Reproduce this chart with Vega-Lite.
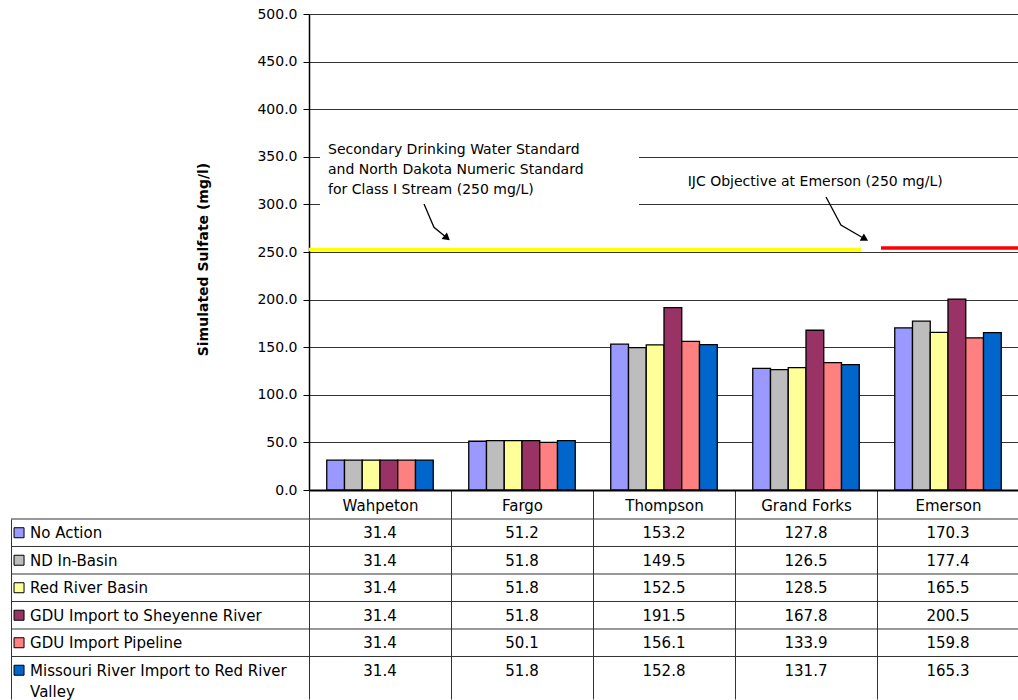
{
  "$schema": "https://vega.github.io/schema/vega-lite/v6.json",
  "padding": {"top": 7, "left": 10, "right": 0, "bottom": 0},
  "background": "white",
  "columns": 2,
  "bounds": "flush",
  "align": "each",
  "spacing": {"row": 29, "column": 0},
  "config": {
    "view": {"stroke": null},
    "font": "DejaVu Sans",
    "axis": {"labelFont": "DejaVu Sans", "titleFont": "DejaVu Sans"},
    "text": {"font": "DejaVu Sans"}
  },
  "datasets": {
    "sulfate": [
      {"location": "Wahpeton", "scenario": "No Action", "value": 31.4},
      {"location": "Fargo", "scenario": "No Action", "value": 51.2},
      {"location": "Thompson", "scenario": "No Action", "value": 153.2},
      {"location": "Grand Forks", "scenario": "No Action", "value": 127.8},
      {"location": "Emerson", "scenario": "No Action", "value": 170.3},
      {"location": "Wahpeton", "scenario": "ND In-Basin", "value": 31.4},
      {"location": "Fargo", "scenario": "ND In-Basin", "value": 51.8},
      {"location": "Thompson", "scenario": "ND In-Basin", "value": 149.5},
      {"location": "Grand Forks", "scenario": "ND In-Basin", "value": 126.5},
      {"location": "Emerson", "scenario": "ND In-Basin", "value": 177.4},
      {"location": "Wahpeton", "scenario": "Red River Basin", "value": 31.4},
      {"location": "Fargo", "scenario": "Red River Basin", "value": 51.8},
      {"location": "Thompson", "scenario": "Red River Basin", "value": 152.5},
      {"location": "Grand Forks", "scenario": "Red River Basin", "value": 128.5},
      {"location": "Emerson", "scenario": "Red River Basin", "value": 165.5},
      {"location": "Wahpeton", "scenario": "GDU Import to Sheyenne River", "value": 31.4},
      {"location": "Fargo", "scenario": "GDU Import to Sheyenne River", "value": 51.8},
      {"location": "Thompson", "scenario": "GDU Import to Sheyenne River", "value": 191.5},
      {"location": "Grand Forks", "scenario": "GDU Import to Sheyenne River", "value": 167.8},
      {"location": "Emerson", "scenario": "GDU Import to Sheyenne River", "value": 200.5},
      {"location": "Wahpeton", "scenario": "GDU Import Pipeline", "value": 31.4},
      {"location": "Fargo", "scenario": "GDU Import Pipeline", "value": 50.1},
      {"location": "Thompson", "scenario": "GDU Import Pipeline", "value": 156.1},
      {"location": "Grand Forks", "scenario": "GDU Import Pipeline", "value": 133.9},
      {"location": "Emerson", "scenario": "GDU Import Pipeline", "value": 159.8},
      {"location": "Wahpeton", "scenario": "Missouri  River Import to Red River\nValley", "value": 31.4},
      {"location": "Fargo", "scenario": "Missouri  River Import to Red River\nValley", "value": 51.8},
      {"location": "Thompson", "scenario": "Missouri  River Import to Red River\nValley", "value": 152.8},
      {"location": "Grand Forks", "scenario": "Missouri  River Import to Red River\nValley", "value": 131.7},
      {"location": "Emerson", "scenario": "Missouri  River Import to Red River\nValley", "value": 165.3}
    ],
    "notes": [
      {"note": "Secondary Drinking  Water Standard\nand North Dakota Numeric Standard\nfor Class I Stream (250 mg/L)", "pos": 0.134, "level": 364},
      {"note": "IJC Objective at Emerson (250 mg/L)", "pos": 2.667, "level": 331}
    ],
    "standards": [
      {"standard": "Secondary / ND Class I Stream", "level": 250, "from": 0, "to": 3.887},
      {"standard": "IJC Objective at Emerson", "level": 250, "from": 4.028, "to": 5}
    ],
    "arrows": [
      {"arrow": "secondary", "step": 1, "pos": 0.81, "level": 300.4},
      {"arrow": "secondary", "step": 2, "pos": 0.88, "level": 276},
      {"arrow": "secondary", "step": 3, "pos": 0.972, "level": 264.7},
      {"arrow": "ijc", "step": 1, "pos": 3.641, "level": 307.8},
      {"arrow": "ijc", "step": 2, "pos": 3.746, "level": 278.4},
      {"arrow": "ijc", "step": 3, "pos": 3.915, "level": 263.7}
    ]
  },
  "concat": [
    {
      "width": 298,
      "height": 476,
      "data": {"values": []},
      "mark": {"type": "point", "opacity": 0},
      "encoding": {}
    },
    {
      "width": 710,
      "height": 476,
      "resolve": {"scale": {"x": "independent"}},
      "layer": [
        {
          "data": {"name": "sulfate"},
          "mark": {"type": "bar", "stroke": "#000", "strokeWidth": 1.3},
          "encoding": {
            "x": {
              "field": "location", "type": "nominal",
              "scale": {"domain": ["Wahpeton", "Fargo", "Thompson", "Grand Forks", "Emerson"], "paddingInner": 0, "paddingOuter": 0},
              "axis": {"title": null, "labelAngle": 0, "labelFontSize": 15, "labelColor": "#000", "labelPadding": -21, "tickBand": "extent", "tickSize": 29, "tickColor": "#333", "tickWidth": 1, "domainColor": "#000", "domainWidth": 2, "grid": false}
            },
            "xOffset": {
              "field": "scenario", "type": "nominal",
              "scale": {"domain": ["No Action", "ND In-Basin", "Red River Basin", "GDU Import to Sheyenne River", "GDU Import Pipeline", "Missouri  River Import to Red River\nValley"], "paddingInner": 0, "paddingOuter": 1.18}
            },
            "y": {
              "field": "value", "type": "quantitative",
              "scale": {"domain": [0, 500], "nice": false},
              "axis": {"values": [0, 50, 100, 150, 200, 250, 300, 350, 400, 450, 500], "format": ".1f", "title": "Simulated Sulfate (mg/l)", "titleFontWeight": "bold", "titleFontSize": 14, "titleColor": "#000", "titlePadding": 46, "titleY": 245, "labelFontSize": 14, "labelColor": "#000", "labelPadding": 6, "tickSize": 6, "tickColor": "#000", "domainColor": "#000", "domainWidth": 1.5, "grid": true, "gridColor": "#333", "gridWidth": 1}
            },
            "color": {
              "field": "scenario", "type": "nominal",
              "scale": {"domain": ["No Action", "ND In-Basin", "Red River Basin", "GDU Import to Sheyenne River", "GDU Import Pipeline", "Missouri  River Import to Red River\nValley"], "range": ["#9999FF", "#BDBDBD", "#FFFF99", "#993366", "#FF8080", "#0066CC"]},
              "legend": null
            }
          }
        },
        {
          "layer": [
            {
              "data": {"name": "notes"},
              "transform": [{"filter": "indexof(datum.note, 'Secondary') === 0"}],
              "mark": {"type": "rect", "fill": "white"},
              "encoding": {
                "x": {"datum": 0.077, "type": "quantitative", "scale": {"domain": [0, 5], "nice": false, "zero": false}, "axis": null},
                "x2": {"datum": 2.324},
                "y": {"datum": 275, "type": "quantitative"},
                "y2": {"datum": 395}
              }
            },
            {
              "data": {"name": "standards"},
              "transform": [{"filter": "datum.standard === 'Secondary / ND Class I Stream'"}],
              "mark": {"type": "rule", "color": "#FFFF00", "strokeWidth": 3.6, "yOffset": -2.5},
              "encoding": {
                "x": {"field": "from", "type": "quantitative", "scale": {"domain": [0, 5], "nice": false, "zero": false}, "axis": null},
                "x2": {"field": "to"},
                "y": {"field": "level", "type": "quantitative"}
              }
            },
            {
              "data": {"name": "standards"},
              "transform": [{"filter": "datum.standard === 'IJC Objective at Emerson'"}],
              "mark": {"type": "rule", "color": "#FF0000", "strokeWidth": 3.6, "yOffset": -4},
              "encoding": {
                "x": {"field": "from", "type": "quantitative", "scale": {"domain": [0, 5], "nice": false, "zero": false}, "axis": null},
                "x2": {"field": "to"},
                "y": {"field": "level", "type": "quantitative"}
              }
            },
            {
              "data": {"name": "arrows"},
              "mark": {"type": "line", "color": "#000", "strokeWidth": 1.3},
              "encoding": {
                "x": {"field": "pos", "type": "quantitative", "scale": {"domain": [0, 5], "nice": false, "zero": false}, "axis": null},
                "y": {"field": "level", "type": "quantitative"},
                "detail": {"field": "arrow", "type": "nominal"},
                "order": {"field": "step", "type": "quantitative"}
              }
            },
            {
              "data": {"name": "arrows"},
              "transform": [{"filter": "datum.arrow === 'secondary' && datum.step === 3"}],
              "mark": {"type": "point", "shape": "triangle-up", "size": 70, "filled": true, "color": "#000", "opacity": 1, "angle": 130},
              "encoding": {
                "x": {"field": "pos", "type": "quantitative", "scale": {"domain": [0, 5], "nice": false, "zero": false}, "axis": null},
                "y": {"field": "level", "type": "quantitative"}
              }
            },
            {
              "data": {"name": "arrows"},
              "transform": [{"filter": "datum.arrow === 'ijc' && datum.step === 3"}],
              "mark": {"type": "point", "shape": "triangle-up", "size": 70, "filled": true, "color": "#000", "opacity": 1, "angle": 120},
              "encoding": {
                "x": {"field": "pos", "type": "quantitative", "scale": {"domain": [0, 5], "nice": false, "zero": false}, "axis": null},
                "y": {"field": "level", "type": "quantitative"}
              }
            },
            {
              "data": {"name": "notes"},
              "mark": {"type": "text", "align": "left", "baseline": "top", "fontSize": 14, "lineBreak": "\n", "lineHeight": 20, "color": "#000"},
              "encoding": {
                "x": {"field": "pos", "type": "quantitative", "scale": {"domain": [0, 5], "nice": false, "zero": false}, "axis": null},
                "y": {"field": "level", "type": "quantitative"},
                "text": {"field": "note"}
              }
            }
          ]
        }
      ]
    },
    {
      "width": 298,
      "height": 180,
      "data": {"name": "sulfate"},
      "transform": [{"filter": "datum.location === 'Wahpeton'"}],
      "layer": [
        {
          "mark": {"type": "rule", "color": "#333", "strokeWidth": 1},
          "encoding": {
            "y": {
              "field": "scenario", "type": "nominal", "bandPosition": 0,
              "scale": {"type": "band", "domain": ["No Action", "ND In-Basin", "Red River Basin", "GDU Import to Sheyenne River", "GDU Import Pipeline", "Missouri  River Import to Red River\nValley"], "paddingInner": 0, "paddingOuter": 0.273, "align": 0},
              "axis": null
            }
          }
        },
        {
          "mark": {"type": "square", "size": 100, "stroke": "#000", "strokeWidth": 1, "filled": true, "opacity": 1},
          "encoding": {
            "x": {"datum": 0.027, "type": "quantitative", "scale": {"domain": [0, 1], "nice": false, "zero": false},
                  "axis": {"values": [0], "grid": true, "gridColor": "#333", "gridWidth": 1, "labels": false, "ticks": false, "domain": false, "title": null}},
            "y": {"field": "scenario", "type": "nominal", "bandPosition": 0.5},
            "color": {
              "field": "scenario", "type": "nominal",
              "scale": {"domain": ["No Action", "ND In-Basin", "Red River Basin", "GDU Import to Sheyenne River", "GDU Import Pipeline", "Missouri  River Import to Red River\nValley"], "range": ["#9999FF", "#BDBDBD", "#FFFF99", "#993366", "#FF8080", "#0066CC"]},
              "legend": null
            }
          }
        },
        {
          "mark": {"type": "text", "align": "left", "baseline": "alphabetic", "dy": 5.5, "fontSize": 15, "lineBreak": "\n", "lineHeight": 21, "color": "#000"},
          "encoding": {
            "x": {"datum": 0.064, "type": "quantitative"},
            "y": {"field": "scenario", "type": "nominal", "bandPosition": 0.5},
            "text": {"field": "scenario"}
          }
        }
      ]
    },
    {
      "width": 710,
      "height": 180,
      "data": {"name": "sulfate"},
      "layer": [
        {
          "transform": [{"filter": "datum.location === 'Wahpeton'"}],
          "mark": {"type": "rule", "color": "#333", "strokeWidth": 1},
          "encoding": {
            "y": {
              "field": "scenario", "type": "nominal", "bandPosition": 0,
              "scale": {"type": "band", "domain": ["No Action", "ND In-Basin", "Red River Basin", "GDU Import to Sheyenne River", "GDU Import Pipeline", "Missouri  River Import to Red River\nValley"], "paddingInner": 0, "paddingOuter": 0.273, "align": 0},
              "axis": null
            }
          }
        },
        {
          "mark": {"type": "text", "fontSize": 15, "baseline": "alphabetic", "dy": 5.5, "color": "#000"},
          "encoding": {
            "x": {
              "field": "location", "type": "nominal", "bandPosition": 0.5,
              "scale": {"type": "band", "domain": ["Wahpeton", "Fargo", "Thompson", "Grand Forks", "Emerson"], "paddingInner": 0, "paddingOuter": 0},
              "axis": {"tickBand": "extent", "grid": true, "gridColor": "#333", "gridWidth": 1, "labels": false, "ticks": false, "domain": false, "title": null}
            },
            "y": {"field": "scenario", "type": "nominal", "bandPosition": 0.5},
            "text": {"field": "value", "type": "quantitative", "format": ".1f"}
          }
        }
      ]
    }
  ]
}
